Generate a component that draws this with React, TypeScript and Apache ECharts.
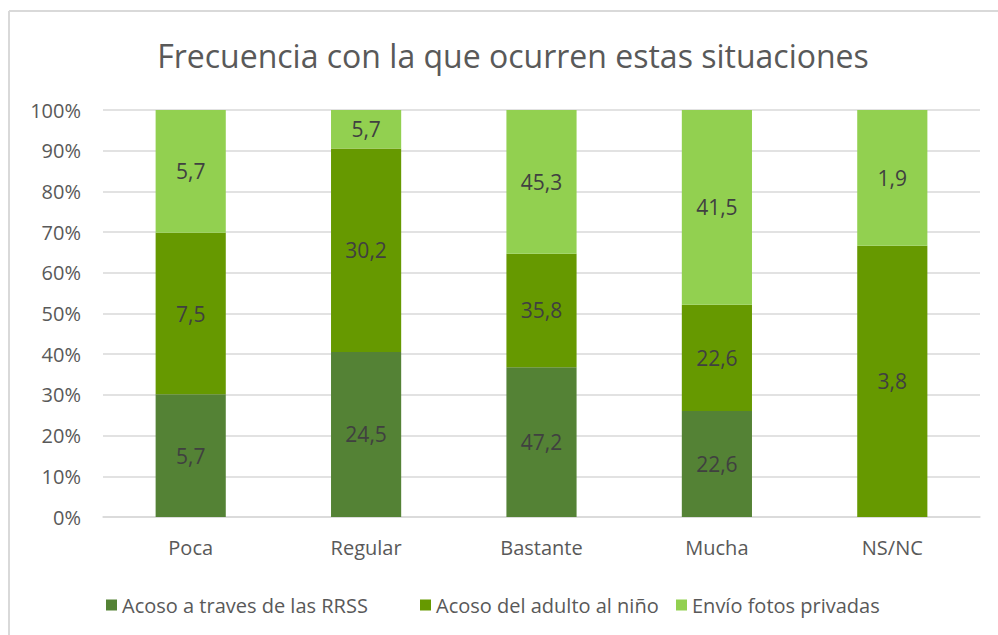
import React, { useEffect, useRef } from "react";
import * as echarts from "echarts";

const categories = ["Poca", "Regular", "Bastante", "Mucha", "NS/NC"];
const seriesNames = ["Acoso a traves de las RRSS", "Acoso del adulto al niño", "Envío fotos privadas"];
const acosoRRSS = [5.7, 24.5, 47.2, 22.6, 0];
const acosoAdulto = [7.5, 30.2, 35.8, 22.6, 3.8];
const envioFotos = [5.7, 5.7, 45.3, 41.5, 1.9];
const yTicks = [0, 10, 20, 30, 40, 50, 60, 70, 80, 90, 100];
const colors = ["#548235", "#669900", "#92D050"];
const legendLefts = [101, 415, 671];

const FONT = "'Open Sans', sans-serif";

export default function App() {
  const ref = useRef<HTMLDivElement>(null);
  useEffect(() => {
    if (!ref.current) return;
    const chart = echarts.init(ref.current, null, { renderer: "svg" });
    const raw = [acosoRRSS, acosoAdulto, envioFotos];
    const totals = categories.map((_, i) => raw.reduce((s, arr) => s + arr[i], 0));
    const series = raw.map((arr, si) => ({
      name: seriesNames[si],
      type: "bar",
      stack: "total",
      barWidth: "40%",
      itemStyle: { color: colors[si] },
      label: {
        show: true,
        position: "inside",
        color: "#404040",
        fontFamily: FONT,
        fontSize: 21,
        formatter: (p: any) => {
          const v = arr[p.dataIndex];
          return v === 0 ? "" : String(v).replace(".", ",");
        },
      },
      data: arr.map((v, i) => (v / totals[i]) * 100),
    }));
    chart.setOption({
      animation: false,
      textStyle: { fontFamily: FONT },
      title: {
        text: "Frecuencia con la que ocurren estas situaciones",
        left: 508,
        textAlign: "center",
        top: 34,
        textStyle: { color: "#595959", fontSize: 32, fontWeight: "normal", fontFamily: FONT },
      },
      legend: seriesNames.map((n, i) => ({
        left: legendLefts[i],
        top: 590,
        icon: "rect",
        itemWidth: 11,
        itemHeight: 11,
        textStyle: { color: "#595959", fontSize: 20, fontFamily: FONT },
        data: [n],
      })),
      grid: { left: 103, right: 18, top: 110, bottom: 118, containLabel: false },
      xAxis: {
        type: "category",
        data: categories,
        axisLine: { lineStyle: { color: "#d9d9d9", width: 1.5 } },
        axisTick: { show: false },
        axisLabel: { color: "#595959", fontSize: 20, fontFamily: FONT, margin: 20 },
      },
      yAxis: {
        type: "value",
        min: yTicks[0],
        max: yTicks[yTicks.length - 1],
        interval: 10,
        axisLine: { show: false },
        axisTick: { show: false },
        splitLine: { lineStyle: { color: "#d9d9d9", width: 1.5 } },
        axisLabel: { color: "#595959", fontSize: 20, fontFamily: FONT, margin: 22, formatter: "{value}%" },
      },
      graphic: [
        { type: "line", shape: { x1: 9, y1: 11, x2: 998, y2: 11 }, style: { stroke: "#d9d9d9", lineWidth: 2 } },
        { type: "line", shape: { x1: 9, y1: 11, x2: 9, y2: 635 }, style: { stroke: "#d9d9d9", lineWidth: 2 } },
      ],
      series,
    });
    return () => chart.dispose();
  }, []);
  return <div ref={ref} style={{ width: 998, height: 635, position: "absolute", left: 0, top: 0, background: "#fff" }} />;
}
